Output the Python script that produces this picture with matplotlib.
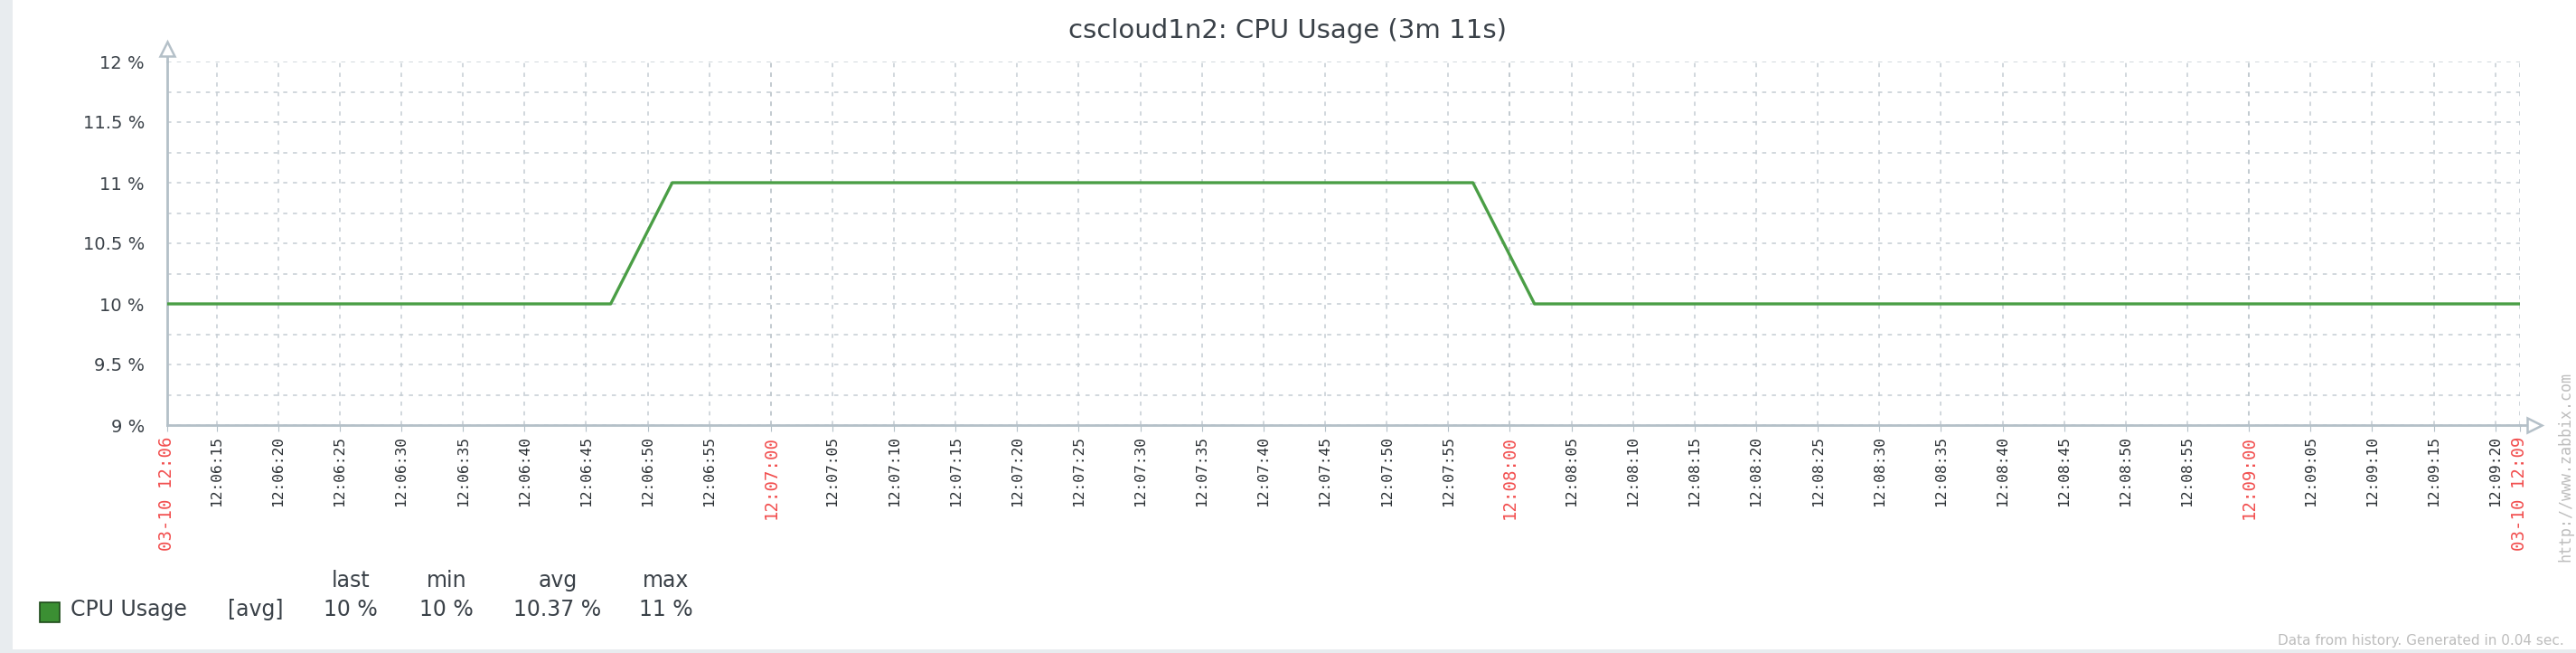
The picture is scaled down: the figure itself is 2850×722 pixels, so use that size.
import datetime
import matplotlib
matplotlib.use("Agg")
import matplotlib.pyplot as plt
import matplotlib.dates as mdates
from matplotlib.patches import Rectangle

# data
times = ["12:06:11", "12:06:47", "12:06:52", "12:07:57", "12:08:02", "12:09:22"]
cpu = [10, 10, 11, 11, 10, 10]
start = "12:06:11"
end = "12:09:22"
stats_names = ["last", "min", "avg", "max"]
stats_values = ["10 %", "10 %", "10.37 %", "11 %"]


def to_dt(s):
    return datetime.datetime.strptime("2021-03-10 " + s, "%Y-%m-%d %H:%M:%S")


x = [to_dt(t) for t in times]
t0 = to_dt(start)
t1 = to_dt(end)

axis_col = "#b4c0c8"
grid_col = "#c5cdd3"
text_col = "#3a4148"
red = "#f24f4f"

fig = plt.figure(figsize=(28.5, 7.22), dpi=100)
fig.patch.set_facecolor("white")
# light grey page border like the zabbix frame
fig.add_artist(Rectangle((0, 0), 14 / 2850, 1, transform=fig.transFigure,
                         facecolor="#e8ecef", edgecolor="none"))
fig.add_artist(Rectangle((0, 0), 1, 4 / 722, transform=fig.transFigure,
                         facecolor="#e8ecef", edgecolor="none"))

ax = fig.add_axes([185 / 2850, 1 - 470 / 722, (2788 - 185) / 2850, (470 - 68) / 722])
ax.plot(x, cpu, color="#4a9e45", lw=2.4, zorder=3)
ax.set_xlim(t0, t1)
ax.set_ylim(9, 12)

# y axis
ax.set_yticks([9, 9.5, 10, 10.5, 11, 11.5, 12])
ax.set_yticklabels(["9 %", "9.5 %", "10 %", "10.5 %", "11 %", "11.5 %", "12 %"])
ax.set_yticks([9.25, 9.75, 10.25, 10.75, 11.25, 11.75], minor=True)
ax.tick_params(axis="y", which="both", length=0, pad=18, labelsize=14, labelcolor=text_col)

# x axis, a tick every 5 seconds
ticks = [t0]
labels = ["03-10 12:06"]
colors = [red]
t = to_dt("12:06:15")
while t < t1:
    ticks.append(t)
    labels.append(t.strftime("%H:%M:%S"))
    colors.append(red if t.second == 0 else "#2a2f33")
    t += datetime.timedelta(seconds=5)
ticks.append(t1)
labels.append("03-10 12:09")
colors.append(red)
ax.set_xticks([mdates.date2num(v) for v in ticks])
ax.set_xticklabels(labels, rotation=90, fontfamily="DejaVu Sans Mono", fontsize=11.7)
for lab, c in zip(ax.get_xticklabels(), colors):
    lab.set_color(c)
    if c == red:
        lab.set_fontsize(13.7)
ax.tick_params(axis="x", length=5, color=axis_col, pad=4)

ax.grid(True, which="both", axis="y", color=grid_col, linestyle=(0, (3, 4)), lw=1.1)
ax.grid(True, which="major", axis="x", color=grid_col, linestyle=(0, (3, 4)), lw=1.1)
for v, c in zip(ticks, colors):
    if c == red and v not in (t0, t1):
        ax.axvline(v, color="#aab4bb", linestyle=(0, (3, 4)), lw=1.1, zorder=1)

for s in ["top", "right"]:
    ax.spines[s].set_visible(False)
for s in ["left", "bottom"]:
    ax.spines[s].set_color(axis_col)
    ax.spines[s].set_linewidth(2)

# axis arrows
ax.plot([0, 0], [1, 1.03], color=axis_col, lw=2, transform=ax.transAxes, clip_on=False)
ax.plot([0], [1.036], marker="^", ms=11, mfc="white", mec=axis_col, mew=1.8,
        transform=ax.transAxes, clip_on=False)
ax.plot([1, 1.004], [0, 0], color=axis_col, lw=2, transform=ax.transAxes, clip_on=False)
ax.plot([1.006], [0], marker=">", ms=11, mfc="white", mec=axis_col, mew=1.8,
        transform=ax.transAxes, clip_on=False)

fig.text(0.5, 1 - 34 / 722, "cscloud1n2: CPU Usage (3m 11s)", ha="center", va="center",
         fontsize=21, color=text_col)

# legend table
fig.add_artist(Rectangle((44 / 2850, 1 - 688 / 722), 22 / 2850, 22 / 722, transform=fig.transFigure,
                         facecolor="#3b8f33", edgecolor="#1e4a1a", lw=1.2))
fig.text(78 / 2850, 1 - 674 / 722, "CPU Usage", ha="left", va="center", fontsize=17, color=text_col)
fig.text(283 / 2850, 1 - 674 / 722, "[avg]", ha="center", va="center", fontsize=17, color=text_col)
for name, val, cx in zip(stats_names, stats_values, [388, 494, 617, 737]):
    fig.text(cx / 2850, 1 - 642 / 722, name, ha="center", va="center", fontsize=17, color=text_col)
    fig.text(cx / 2850, 1 - 674 / 722, val, ha="center", va="center", fontsize=17, color=text_col)

fig.text(2838 / 2850, 1 - 516 / 722, "http://www.zabbix.com", rotation=90, ha="center", va="center",
         fontsize=12, color="#bdbdbd", fontfamily="DejaVu Sans Mono")
fig.text(2837 / 2850, 1 - 708 / 722, "Data from history. Generated in 0.04 sec.", ha="right",
         va="center", fontsize=11, color="#bdbdbd")

fig.savefig("out.png", dpi=100)
